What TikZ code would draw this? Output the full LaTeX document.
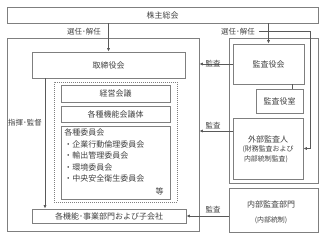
\documentclass[tikz,border=0pt]{standalone}
\usepackage{fontspec}
\setmainfont{Noto Sans CJK JP}
\usetikzlibrary{arrows.meta,calc}
\definecolor{GovLine}{HTML}{7F7F7F}
\definecolor{GovWire}{HTML}{595959}
\definecolor{GovText}{HTML}{404040}

\begin{document}
\begin{tikzpicture}[x=0.75pt,y=-0.75pt,
    box/.style 2 args={draw=GovLine,line width=0.7pt,inner sep=0pt,
      minimum width=#1*0.75pt,minimum height=#2*0.75pt,
      text=GovText,font=\fontsize{6}{7.5}\selectfont,align=center},
    wire/.style={GovWire,line width=0.6pt},
    tip/.style={-{Latex[length=2.6pt,width=2.4pt]}},
    tag/.style={text=GovText,font=\fontsize{5.6}{6.8}\selectfont,inner sep=0pt},
    item/.style={anchor=west,text=GovText,font=\fontsize{6}{7}\selectfont,inner sep=0pt}]
  \useasboundingbox (0,0) rectangle (331,236);

  \node[box={311}{16}] (soukai) at (162.5,15) {株主総会};

  \node[box={192}{193}] (boardarea) at (103,134.5) {};
  \node[box={153}{26}] (torishimari) at (108.5,65) {取締役会};
  \node[box={123}{120},line width=0.5pt,dash pattern=on 0.6pt off 0.9pt] (kaigitai) at (115.5,142) {};
  \node[box={109}{17}] (keiei) at (115.5,93.5) {経営会議};
  \node[box={109}{16}] (kinou) at (115.5,114) {各種機能会議体};
  \node[box={109}{73}] (iinkai) at (115.5,162.5) {};
  \node[item] (iin0) at (64,132) {各種委員会};
  \node[item] (iin1) at (64,144) {・企業行動倫理委員会};
  \node[item] (iin2) at (64,155.5) {・輸出管理委員会};
  \node[item] (iin3) at (64,167) {・環境委員会};
  \node[item] (iin4) at (64,178.5) {・中央安全衛生委員会};
  \node[item,anchor=east] (iin5) at (164,191) {等};
  \node[box={154}{14}] (bumon) at (109,216) {各機能･事業部門および子会社};

  \node[box={89}{145}] (auditarea) at (273.5,110.5) {};
  \node[box={71}{40}] (kansayakukai) at (268.5,64) {監査役会};
  \node[box={47}{24}] (yakushitsu) at (279.5,101) {監査役室};
  \node[box={70}{61}] (gaibu) at (268,148.5) {};
  \node[text=GovText,font=\fontsize{6}{7}\selectfont,inner sep=0pt] (gaibu1)
    at (268,139) {外部監査人};
  \node[text=GovText,font=\fontsize{5.2}{6}\selectfont,inner sep=0pt] (gaibu2)
    at (268,149) {(財務監査および};
  \node[text=GovText,font=\fontsize{5.2}{6}\selectfont,inner sep=0pt] (gaibu3)
    at (266,159) {内部統制監査)};
  \node[box={89}{44}] (naibu) at (273.5,210) {};
  \node[text=GovText,font=\fontsize{6}{7}\selectfont,inner sep=0pt] (naibu1)
    at (271,204) {内部監査部門};
  \node[text=GovText,font=\fontsize{5.2}{6}\selectfont,inner sep=0pt] (naibu2)
    at (271,220) {(内部統制)};

  \coordinate (branch) at (259,31);
  \coordinate (corner) at (310,31);

  \draw[wire,tip] (soukai.south -| torishimari.north) -- (torishimari.north);
  \draw[wire,tip] (soukai.south -| kansayakukai.north) -- (kansayakukai.north);
  \draw[wire,tip] (branch) -- (corner) |- (gaibu.east);
  \draw[wire] (kansayakukai.south -| 292,0) -- (yakushitsu.north -| 292,0);
  \draw[wire,tip] (kansayakukai.west) -- (kansayakukai.west -| boardarea.east);
  \draw[wire,tip] (gaibu.west |- 0,131) -- (boardarea.east |- 0,131);
  \draw[wire,tip] (naibu.west |- bumon.east) -- (bumon.east);
  \draw[wire,tip] (torishimari.south -| 45,0) -- (bumon.north -| 45,0);

  \node[tag] (sennin1) at (84,32) {選任･解任};
  \node[tag] (sennin2) at (238,32) {選任･解任};
  \node[tag] (kansa1) at (213,64) {監査};
  \node[tag] (kansa2) at (213,126) {監査};
  \node[tag] (kansa3) at (213,210) {監査};
  \node[tag] (shiki) at (25,123) {指揮･監督};
\end{tikzpicture}
\end{document}
